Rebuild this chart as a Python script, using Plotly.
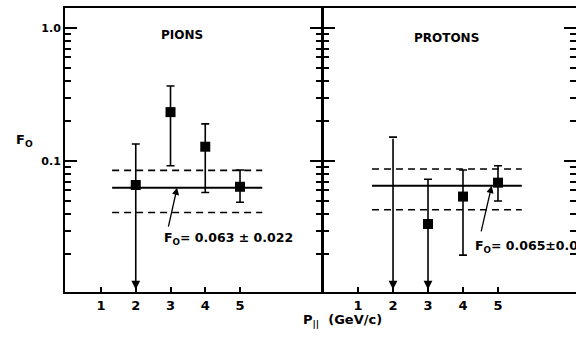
import math
import plotly.graph_objects as go

# ---------------- data ----------------
pion_p = [2, 3, 4, 5]
pion_f0 = [0.066, 0.233, 0.128, 0.064]
pion_hi = [0.134, 0.366, 0.190, 0.0856]
pion_lo = [None, 0.092, 0.058, 0.049]          # None -> upper limit (arrow)

proton_p = [2, 3, 4, 5]
proton_f0 = [None, 0.0336, 0.054, 0.0687]
proton_hi = [0.151, 0.0728, 0.0856, 0.092]
proton_lo = [None, None, 0.0196, 0.050]

pion_fit = [0.063, 0.022]
proton_fit = [0.065, 0.022]
pion_fit_range = [1.32, 5.64]
proton_fit_range = [1.40, 5.68]

x_ticks = [1, 2, 3, 4, 5]
y_major = [0.1, 1.0]
y_major_text = ["0.1", "1.0"]
y_minor = [m * 0.01 for m in range(2, 10)] + [m * 0.1 for m in range(2, 10)]

panel_titles = ["PIONS", "PROTONS"]
fit_texts = ["F<sub>O</sub>= 0.063 ± 0.022", "F<sub>O</sub>= 0.065±0.022"]
limit_floor = 0.0108   # where the downward arrows end (bottom of the scale)

FONT = "DejaVu Sans"
W, H = 576, 343
ML, MR, MT, MB = 65, 0, 8, 51
Y_RANGE = [-1.985, 0.15]

fig = go.Figure()


def add_panel(xref, yref, p, f0, hi, lo, fit, fit_range):
    xs, ys, ep, em = [], [], [], []
    cx, cy = [], []
    for pi, fi, h, l in zip(p, f0, hi, lo):
        if fi is not None:
            xs.append(pi)
            ys.append(fi)
            ep.append(h - fi)
            em.append(fi - l if l is not None else 0)
        else:
            cx.append(pi)
            cy.append(h)
    # fit line and +/- band (dashed)
    fig.add_trace(go.Scatter(x=fit_range, y=[fit[0]] * 2, mode="lines",
                             line=dict(color="black", width=2),
                             xaxis=xref, yaxis=yref, showlegend=False))
    for v in (fit[0] + fit[1], fit[0] - fit[1]):
        fig.add_trace(go.Scatter(x=fit_range, y=[v] * 2, mode="lines",
                                 line=dict(color="black", width=1.6, dash="7px,5px"),
                                 xaxis=xref, yaxis=yref, showlegend=False))
    # points with error bars
    fig.add_trace(go.Scatter(
        x=xs, y=ys, mode="markers",
        marker=dict(symbol="square", size=10, color="black"),
        error_y=dict(type="data", symmetric=False, array=ep, arrayminus=em,
                     color="black", thickness=1.6, width=4),
        xaxis=xref, yaxis=yref, showlegend=False))
    # caps for limit-only points
    if cx:
        fig.add_trace(go.Scatter(
            x=cx, y=cy, mode="markers",
            marker=dict(size=1, color="rgba(0,0,0,0)"),
            error_y=dict(type="data", array=[0] * len(cx), color="black",
                         thickness=1.6, width=4),
            xaxis=xref, yaxis=yref, showlegend=False))
    # downward arrows for upper limits
    for pi, fi, h, l in zip(p, f0, hi, lo):
        if l is None:
            start = fi if fi is not None else h
            fig.add_annotation(x=pi, y=math.log10(limit_floor), ax=pi,
                               ay=math.log10(start), xref=xref, yref=yref,
                               axref=xref, ayref=yref, text="",
                               showarrow=True, arrowhead=2, arrowsize=1.1,
                               arrowwidth=1.6, arrowcolor="black")


add_panel("x", "y", pion_p, pion_f0, pion_hi, pion_lo, pion_fit, pion_fit_range)
add_panel("x2", "y2", proton_p, proton_f0, proton_hi, proton_lo, proton_fit, proton_fit_range)

# empty trace so the right-hand tick axis of the proton panel is drawn
fig.add_trace(go.Scatter(x=[], y=[], xaxis="x2", yaxis="y3", showlegend=False,
                         hoverinfo="skip"))

# fit labels with arrows
lab_font = dict(family=FONT, size=12.5, color="black", weight="bold")
fig.add_annotation(x=3.19, y=math.log10(pion_fit[0]), ax=2.93, ay=math.log10(0.0313),
                   xref="x", yref="y", axref="x", ayref="y", text="",
                   showarrow=True, arrowhead=2, arrowsize=1.1, arrowwidth=1.3,
                   arrowcolor="black")
fig.add_annotation(x=2.75, y=math.log10(0.0262), xref="x", yref="y", text=fit_texts[0],
                   showarrow=False, xanchor="left", yanchor="middle", font=lab_font)
fig.add_annotation(x=4.82, y=math.log10(proton_fit[0]), ax=4.51, ay=math.log10(0.0288),
                   xref="x2", yref="y2", axref="x2", ayref="y2", text="",
                   showarrow=True, arrowhead=2, arrowsize=1.1, arrowwidth=1.3,
                   arrowcolor="black")
fig.add_annotation(x=4.30, y=math.log10(0.0227), xref="x2", yref="y2", text=fit_texts[1],
                   showarrow=False, xanchor="left", yanchor="middle", font=lab_font)

# panel titles
title_font = dict(family=FONT, size=12, color="black", weight="bold")
fig.add_annotation(x=3.33, y=math.log10(0.885), xref="x", yref="y", text=panel_titles[0],
                   showarrow=False, font=title_font)
fig.add_annotation(x=3.53, y=math.log10(0.84), xref="x2", yref="y2", text=panel_titles[1],
                   showarrow=False, font=title_font)

# axis titles
fig.add_annotation(x=(14 - ML) / (W - ML - MR), y=(H - MB - 140) / (H - MT - MB),
                   xref="paper", yref="paper", text="F<sub>O</sub>", showarrow=False,
                   font=dict(family=FONT, size=13, color="black", weight="bold"))
fig.add_annotation(x=(342 - ML) / (W - ML - MR), y=(H - MB - 331) / (H - MT - MB),
                   xref="paper", yref="paper", text="P<sub>||</sub>  (GeV/c)",
                   showarrow=False,
                   font=dict(family=FONT, size=13, color="black", weight="bold"))

tickfont = dict(family=FONT, size=13, color="black", weight="bold")
xcommon = dict(tickmode="array", tickvals=x_ticks, ticks="inside", ticklen=5,
               tickwidth=1.6, tickcolor="black", showline=True, linecolor="black",
               linewidth=2, mirror=True, showgrid=False, zeroline=False,
               tickfont=tickfont)
ytick = dict(type="log", range=Y_RANGE, tickmode="array", tickvals=y_major,
             ticktext=y_major_text, ticks="inside", ticklen=12, tickwidth=1.8,
             tickcolor="black", showgrid=False, zeroline=False,
             minor=dict(tickmode="array", tickvals=y_minor, ticks="inside",
                        ticklen=6, tickwidth=1.6, tickcolor="black", showgrid=False))

fig.update_layout(
    width=W, height=H, autosize=False,
    margin=dict(l=ML, r=MR, t=MT, b=MB, pad=0),
    paper_bgcolor="white", plot_bgcolor="white",
    showlegend=False,
    xaxis=dict(domain=[0, 0.503], range=[-0.036, 7.36], anchor="y", **xcommon),
    xaxis2=dict(domain=[0.505, 1.0], range=[0, 7.23], anchor="y2", **xcommon),
    yaxis=dict(anchor="x", showline=True, linecolor="black", linewidth=2,
               mirror="allticks",
               tickfont=dict(family=FONT, size=11, color="black", weight="bold"),
               **ytick),
    yaxis2=dict(anchor="x2", showline=True, linecolor="black", linewidth=2,
                mirror=False, showticklabels=False, **ytick),
    yaxis3=dict(anchor="x2", overlaying="y2", side="right", showline=False,
                showticklabels=False, **ytick),
)

fig.write_html("out.html")
